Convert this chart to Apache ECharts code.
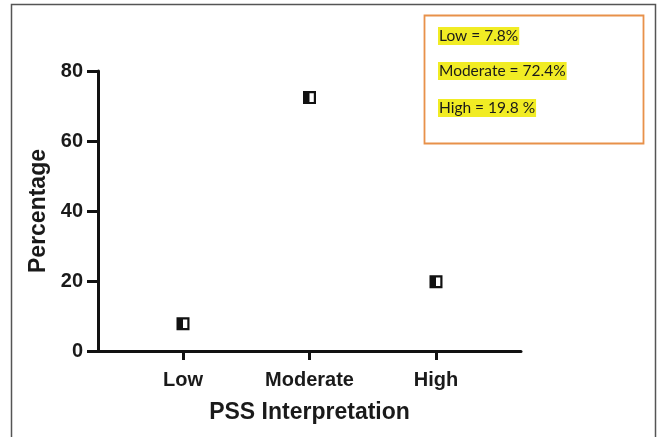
<!DOCTYPE html>
<html><head><meta charset="utf-8">
<script src="https://cdn.jsdelivr.net/npm/echarts@6/dist/echarts.min.js"></script>
<style>html,body{margin:0;padding:0;background:#fff}#c{width:657px;height:437px}</style>
</head><body><div id="c"></div>
<script>
const categories = ['Low', 'Moderate', 'High'];
const percentages = [7.8, 72.4, 19.8];
const yTicks = [0, 20, 40, 60, 80];
const noteLines = ['Low = 7.8%', 'Moderate = 72.4%', 'High = 19.8 %'];

const chart = echarts.init(document.getElementById('c'), null, {renderer: 'canvas'});
const catIdx = categories.map((_, i) => i);
const points = percentages.map((v, i) => [i, v]);
const halfSquare = 'path://M0 0H13V13H0ZM6.5 2.2V10.8H10.8V2.2Z';

chart.setOption({
  animation: false,
  backgroundColor: '#fff',
  grid: {left: 98, right: 136, top: 71, bottom: 86, containLabel: false},
  xAxis: {
    type: 'value', min: -0.672, max: 2.672,
    name: 'PSS Interpretation', nameLocation: 'middle', nameGap: 50,
    nameTextStyle: {fontFamily: 'Liberation Sans', fontWeight: 'bold', fontSize: 23, color: '#1a1a1a'},
    axisLine: {show: true, onZero: false, lineStyle: {color: '#111', width: 3}},
    axisTick: {show: true, customValues: catIdx, length: 9, lineStyle: {color: '#111', width: 3}},
    axisLabel: {customValues: catIdx, formatter: v => categories[Math.round(v)] || '', margin: 19,
      fontFamily: 'Liberation Sans', fontWeight: 'bold', fontSize: 20, color: '#1a1a1a'},
    splitLine: {show: false}
  },
  yAxis: {
    type: 'value', min: 0, max: 80, interval: 20,
    name: 'Percentage', nameLocation: 'middle', nameGap: 48,
    nameTextStyle: {fontFamily: 'Liberation Sans', fontWeight: 'bold', fontSize: 23, color: '#1a1a1a'},
    axisLine: {show: true, onZero: false, lineStyle: {color: '#111', width: 3}},
    axisTick: {show: true, length: 11, lineStyle: {color: '#111', width: 3}},
    axisLabel: {margin: 15, fontFamily: 'Liberation Sans', fontWeight: 'bold', fontSize: 20, color: '#1a1a1a',
      customValues: yTicks},
    splitLine: {show: false}
  },
  series: [{
    type: 'scatter',
    data: points,
    symbol: halfSquare,
    symbolSize: [13, 13],
    itemStyle: {color: '#111', opacity: 1}
  }],
  graphic: [
    {type: 'polyline', silent: true, shape: {points: [[11.5, 437], [11.5, 4.5], [655.5, 4.5], [655.5, 437]]},
      style: {stroke: '#555', lineWidth: 1.5, fill: null}},
    {type: 'rect', shape: {x: 424.5, y: 15.5, width: 219, height: 128},
      style: {stroke: '#E8914A', lineWidth: 1.8, fill: '#fff'}},
    ...noteLines.map((t, i) => ({
      type: 'text', left: 438, top: [27, 62, 99][i],
      style: {text: t, fontFamily: 'Lato', fontSize: 15.5, fill: '#1a1a1a',
        backgroundColor: '#F1EC24', padding: [1, 1, 1, 1]}
    }))
  ]
});
</script></body></html>
